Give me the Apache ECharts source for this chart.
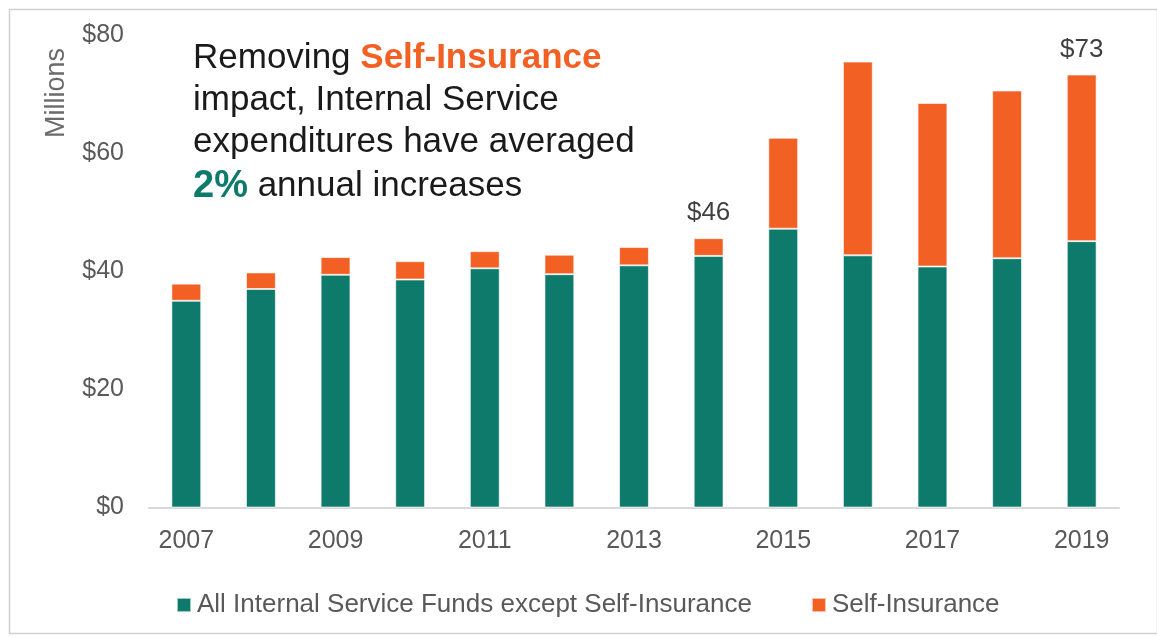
<!DOCTYPE html>
<html>
<head>
<meta charset="utf-8">
<script src="https://cdn.jsdelivr.net/npm/echarts@6/dist/echarts.min.js"></script>
<style>
  html, body { margin: 0; padding: 0; background: #ffffff; }
  #chart { width: 1157px; height: 638px; }
</style>
</head>
<body>
<div id="chart"></div>
<script>
// Internal Service expenditures by fiscal year, $ millions
const years = ['2007', '2008', '2009', '2010', '2011', '2012', '2013', '2014', '2015', '2016', '2017', '2018', '2019'];
const coreFunds = [35.0, 37.0, 39.4, 38.6, 40.5, 39.5, 41.0, 42.6, 47.2, 42.7, 40.8, 42.2, 45.1];
const selfInsurance = [2.9, 2.8, 3.0, 3.1, 2.9, 3.3, 3.1, 3.0, 15.4, 32.8, 27.7, 28.4, 28.2];
const labeledYears = ['2014', '2019'];
const yTicks = [0, 20, 40, 60, 80];

const TEAL = '#0E7A6B';
const ORANGE = '#F26024';
const FONT = '"Liberation Sans", Arial, sans-serif';

const chart = echarts.init(document.getElementById('chart'), null, { renderer: 'canvas' });

chart.setOption({
  animation: false,
  backgroundColor: '#ffffff',
  grid: { left: 149, right: 38, top: 35, bottom: 130.5 },
  xAxis: {
    type: 'category',
    data: years,
    axisLine: { lineStyle: { color: '#d9d9d9', width: 2 } },
    axisTick: { show: false },
    axisLabel: {
      interval: 1,
      color: '#595959',
      fontFamily: FONT,
      fontSize: 25,
      margin: 21
    }
  },
  yAxis: {
    type: 'value',
    min: yTicks[0],
    max: yTicks[yTicks.length - 1],
    interval: yTicks[1] - yTicks[0],
    axisLine: { show: false },
    axisTick: { show: false },
    splitLine: { show: false },
    axisLabel: {
      color: '#595959',
      fontFamily: FONT,
      fontSize: 25,
      margin: 25,
      formatter: v => '$' + v
    }
  },
  legend: {
    left: 171,
    top: 587,
    itemWidth: 14,
    itemHeight: 14,
    itemGap: 59,
    icon: 'rect',
    textStyle: { color: '#595959', fontFamily: FONT, fontSize: 26, padding: [0, 0, 0, 1] },
    data: ['All Internal Service Funds except Self-Insurance', 'Self-Insurance']
  },
  series: [
    {
      name: 'All Internal Service Funds except Self-Insurance',
      type: 'bar',
      stack: 'total',
      barWidth: '40%',
      data: coreFunds,
      itemStyle: { color: TEAL, borderColor: 'rgba(255,255,255,0.6)', borderWidth: 1 }
    },
    {
      name: 'Self-Insurance',
      type: 'bar',
      stack: 'total',
      barWidth: '40%',
      data: selfInsurance,
      itemStyle: { color: ORANGE, borderColor: 'rgba(255,255,255,0.6)', borderWidth: 1 },
      label: {
        show: true,
        position: 'top',
        distance: 12,
        color: '#404040',
        fontFamily: FONT,
        fontSize: 26,
        formatter: p => labeledYears.includes(p.name)
          ? '$' + Math.round(coreFunds[p.dataIndex] + selfInsurance[p.dataIndex])
          : ''
      }
    }
  ],
  graphic: [
    {
      type: 'rect',
      left: 7, top: 7,
      shape: { width: 1148, height: 624 },
      style: { fill: 'none', stroke: '#d0d0d0', lineWidth: 1.5 },
      silent: true
    },
    {
      type: 'text',
      x: 57, y: 93,
      rotation: Math.PI / 2,
      style: {
        text: 'Millions',
        fill: '#6b6b6b',
        font: '27px ' + FONT,
        align: 'center',
        verticalAlign: 'middle'
      }
    },
    {
      type: 'text',
      left: 193, top: 37,
      style: {
        text: 'Removing {o|Self-Insurance}\nimpact, Internal Service\nexpenditures have averaged\n{g|2%} annual increases',
        fill: '#1a1a1a',
        font: '35px ' + FONT,
        lineHeight: 42,
        rich: {
          o: { fill: ORANGE, fontWeight: 'bold', fontSize: 35, fontFamily: FONT, lineHeight: 42 },
          g: { fill: TEAL, fontWeight: 'bold', fontSize: 38, fontFamily: FONT, lineHeight: 47 }
        }
      }
    }
  ]
});
</script>
</body>
</html>
